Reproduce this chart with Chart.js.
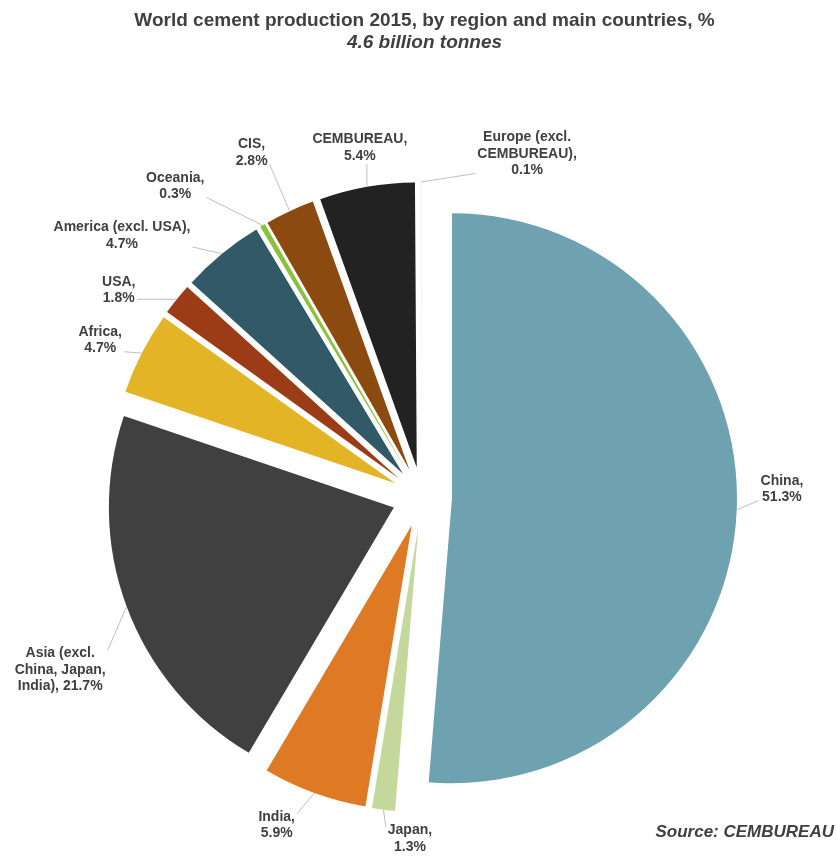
<!DOCTYPE html>
<html><head><meta charset="utf-8">
<script src="https://cdn.jsdelivr.net/npm/chart.js@4.4.1/dist/chart.umd.min.js"></script>
<style>
html,body{margin:0;padding:0;background:#fff;}
#wrap{position:relative;width:837px;height:857px;overflow:hidden;font-family:"Liberation Sans",Arial,sans-serif;color:#404040;}
#c{position:absolute;left:0;top:0;}
.t{position:absolute;left:12px;width:825px;text-align:center;font-size:19px;line-height:22px;white-space:nowrap;font-weight:bold;}
#t1{top:9px;}
#t2{top:31px;font-style:italic;}
#src{position:absolute;right:3px;top:822px;font-size:17px;line-height:20px;font-weight:bold;font-style:italic;white-space:nowrap;}
</style></head>
<body>
<div id="wrap">
<canvas id="c" width="837" height="857"></canvas>
<div class="t" id="t1">World cement production 2015, by region and main countries, %</div>
<div class="t" id="t2">4.6 billion tonnes</div>
<div id="src">Source: CEMBUREAU</div>
</div>
<script>
// ---- data ----
const categories = ["China", "Japan", "India", "Asia (excl. China, Japan, India)", "Africa", "USA",
  "America (excl. USA)", "Oceania", "CIS", "CEMBUREAU", "Europe (excl. CEMBUREAU)"];
const shares = [51.3, 1.3, 5.9, 21.7, 4.7, 1.8, 4.7, 0.3, 2.8, 5.4, 0.1];
const labelLines = [
  ["China,", "{v}%"],
  ["Japan,", "{v}%"],
  ["India,", "{v}%"],
  ["Asia (excl.", "China, Japan,", "India), {v}%"],
  ["Africa,", "{v}%"],
  ["USA,", "{v}%"],
  ["America (excl. USA),", "{v}%"],
  ["Oceania,", "{v}%"],
  ["CIS,", "{v}%"],
  ["CEMBUREAU,", "{v}%"],
  ["Europe (excl.", "CEMBUREAU),", "{v}%"]
];

// ---- style ----
const colors = ["#6fa2b0", "#c4d89c", "#de7a24", "#404040", "#e3b526", "#9c3c16",
  "#325968", "#8cc040", "#8b4a10", "#222222", "#f6f6f6"];
const EXPLODE = 30;
const labelNudgeDeg = [-3.6, -5, 3.9, -5.2, -1.2, -4.6, -9.5, -8, -1.5, 0, 17.2];
const labelExtra = [75, 57, 74, 116, 73, 82, 113, 112, 99, 70, 74];
const LABEL_FONT = "bold 14px 'Liberation Sans', Arial, sans-serif";
const LINE_H = 16.5;

const explodePlugin = {
  id: 'explode',
  afterDatasetsUpdate(chart) {
    const meta = chart.getDatasetMeta(0);
    const ca = chart.chartArea;
    const cx = (ca.left + ca.right) / 2, cy = (ca.top + ca.bottom) / 2;
    meta.data.forEach(el => {
      const mid = (el.startAngle + el.endAngle) / 2;
      el.x = cx + EXPLODE * Math.cos(mid);
      el.y = cy + EXPLODE * Math.sin(mid);
    });
  }
};

const labelPlugin = {
  id: 'sliceLabels',
  afterDatasetsDraw(chart) {
    const ctx = chart.ctx;
    const meta = chart.getDatasetMeta(0);
    const ca = chart.chartArea;
    const cx = (ca.left + ca.right) / 2, cy = (ca.top + ca.bottom) / 2;
    ctx.save();
    ctx.font = LABEL_FONT;
    ctx.textAlign = 'center';
    ctx.textBaseline = 'middle';
    meta.data.forEach((el, i) => {
      const R = el.outerRadius;
      const mid = (el.startAngle + el.endAngle) / 2;
      const midDeg = mid * 180 / Math.PI + 90;
      const th = (midDeg + labelNudgeDeg[i]) * Math.PI / 180;
      const dist = R + labelExtra[i];
      const lx = cx + dist * Math.sin(th), ly = cy - dist * Math.cos(th);
      const lines = labelLines[i].map(s => s.replace('{v}', shares[i].toFixed(1)));
      let w = 0;
      lines.forEach(s => { w = Math.max(w, ctx.measureText(s).width); });
      const h = lines.length * LINE_H;
      const bx0 = lx - w / 2 - 2, bx1 = lx + w / 2 + 2, by0 = ly - h / 2, by1 = ly + h / 2;
      // anchor at the middle of the slice's outer arc
      const axp = el.x + R * Math.cos(mid), ayp = el.y + R * Math.sin(mid);
      let ex, ey;
      if (axp < bx0 || axp > bx1) {
        ex = axp < bx0 ? bx0 : bx1;
        ey = Math.min(Math.max(ayp, by0 + 5), by1 - 5);
      } else {
        ex = axp;
        ey = ayp < by0 ? by0 : by1;
      }
      if (Math.hypot(ex - axp, ey - ayp) > 4) {
        ctx.strokeStyle = '#bfbfbf';
        ctx.lineWidth = 1;
        ctx.beginPath();
        ctx.moveTo(axp, ayp);
        ctx.lineTo(ex, ey);
        ctx.stroke();
      }
      ctx.fillStyle = '#404040';
      lines.forEach((s2, k) => {
        ctx.fillText(s2, lx, ly - h / 2 + LINE_H * (k + 0.5));
      });
    });
    ctx.restore();
  }
};

new Chart(document.getElementById('c'), {
  type: 'pie',
  data: {
    labels: categories,
    datasets: [{
      data: shares,
      backgroundColor: colors,
      borderWidth: 0
    }]
  },
  options: {
    responsive: false,
    animation: false,
    events: [],
    layout: { padding: { left: 137, right: 130, top: 212, bottom: 75 } },
    plugins: { legend: { display: false }, tooltip: { enabled: false }, title: { display: false } }
  },
  plugins: [explodePlugin, labelPlugin]
});
</script>
</body></html>
